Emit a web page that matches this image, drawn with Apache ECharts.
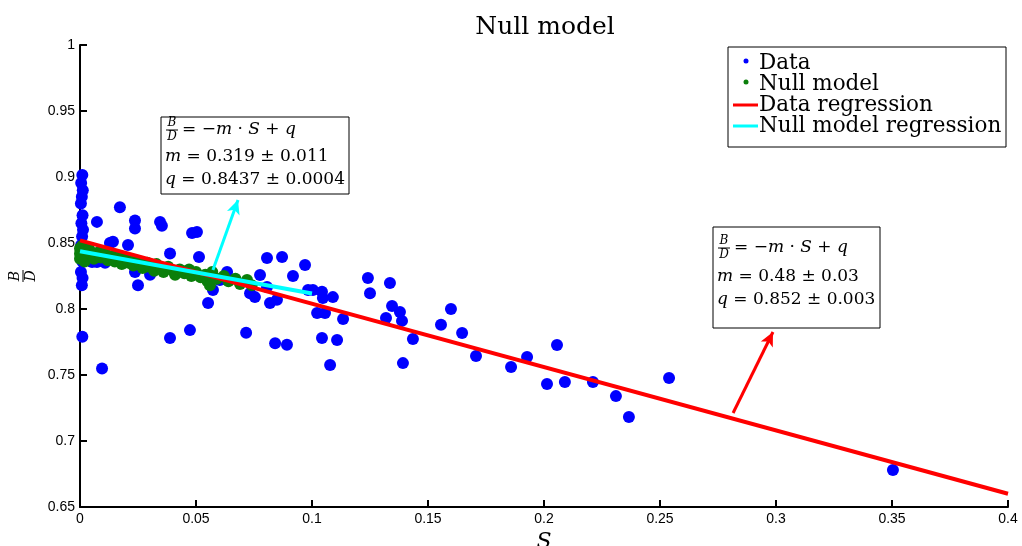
<!DOCTYPE html>
<html><head><meta charset="utf-8">
<script src="https://cdn.jsdelivr.net/npm/echarts@6/dist/echarts.min.js"></script>
<style>html,body{margin:0;padding:0;background:#fff}#c{width:1022px;height:546px}</style>
</head><body><div id="c"></div>
<script>
const chartTitle = 'Null model';
const xTickValues = [0, 0.05, 0.1, 0.15, 0.2, 0.25, 0.3, 0.35, 0.4];
const yTickValues = [0.65, 0.7, 0.75, 0.8, 0.85, 0.9, 0.95, 1];

// Blue "Data" points: S and B/D
const dataS = [0.0010,0.0005,0.0012,0.0008,0.0004,0.0011,0.0006,0.0013,0.0009,0.0005,0.0012,0.0007,0.0010,0.0004,0.0011,0.0008,0.0010,
  0.0073,0.0095,0.0172,0.0237,0.0237,0.0345,0.0353,0.0129,0.0142,0.0207,0.0073,0.0052,0.0108,0.0237,0.0250,0.0302,0.0388,0.0388,
  0.0483,0.0504,0.0513,0.0552,0.0474,0.0573,0.0603,0.0634,0.0806,0.0871,0.0776,0.0918,0.0970,0.0733,0.0754,0.0806,0.0819,0.0849,
  0.0716,0.0841,0.0892,0.0983,0.1004,0.1043,0.1047,0.1090,0.1022,0.1056,0.1134,0.1043,0.1108,0.1078,
  0.1241,0.1336,0.1250,0.1345,0.1379,0.1388,0.1319,0.1435,0.1392,0.1599,0.1556,0.1647,0.1707,0.1858,0.1927,0.2056,0.2013,0.2090,
  0.2211,0.2310,0.2366,0.2539,0.3504];
const dataBD = [0.9015,0.8955,0.8900,0.8850,0.8800,0.8710,0.8650,0.8600,0.8550,0.8485,0.8430,0.8390,0.8360,0.8280,0.8235,0.8180,0.7790,
  0.8660,0.7550,0.8770,0.8670,0.8610,0.8660,0.8630,0.8500,0.8510,0.8485,0.8356,0.8356,0.8350,0.8280,0.8180,0.8260,0.8420,0.7780,
  0.8576,0.8583,0.8394,0.8045,0.7840,0.8144,0.8220,0.8280,0.8386,0.8394,0.8258,0.8250,0.8333,0.8120,0.8090,0.8167,0.8045,0.8070,
  0.7820,0.7740,0.7730,0.8144,0.8144,0.8130,0.8083,0.8090,0.7970,0.7970,0.7924,0.7780,0.7765,0.7576,
  0.8235,0.8197,0.8120,0.8023,0.7977,0.7910,0.7932,0.7773,0.7590,0.8000,0.7880,0.7818,0.7644,0.7560,0.7636,0.7727,0.7432,0.7447,
  0.7447,0.7340,0.7182,0.7477,0.6780];

// Green "Null model" points
const nullS = [0,0,0,0.001,0.001,0.002,0.002,0.004,0.005,0.006,0.008,0.009,0.011,0.012,0.014,0.015,0.017,0.018,0.020,0.021,
  0.023,0.024,0.026,0.027,0.029,0.030,0.032,0.033,0.035,0.036,0.038,0.040,0.041,0.043,0.045,0.047,0.048,0.050,0.052,0.054,
  0.055,0.056,0.057,0.059,0.062,0.064,0.067,0.069,0.072,0.074];
const nullBD = [0.846,0.842,0.838,0.848,0.840,0.844,0.836,0.845,0.841,0.838,0.843,0.839,0.842,0.837,0.840,0.836,0.839,0.834,0.838,0.835,
  0.833,0.837,0.834,0.831,0.835,0.832,0.829,0.834,0.831,0.828,0.832,0.829,0.826,0.830,0.827,0.830,0.825,0.828,0.824,0.826,
  0.821,0.818,0.828,0.823,0.825,0.821,0.823,0.819,0.822,0.818];

// Regression fits (B/D = -m*S + q)
const dataFit = {m: 0.48, q: 0.852, sEnd: 0.4};
const nullFit = {m: 0.319, q: 0.8437, sEnd: 0.1};
// Annotation arrows in data coordinates [start, tip]
const dataArrow = [[0.2815, 0.7212], [0.2987, 0.7826]];
const nullArrow = [[0.0573, 0.8295], [0.0681, 0.8826]];
const legendNames = ['Data', 'Null model', 'Data regression', 'Null model regression'];
const nullBoxLines = ['m = 0.319 ± 0.011', 'q = 0.8437 ± 0.0004'];
const dataBoxLines = ['m = 0.48 ± 0.03', 'q = 0.852 ± 0.003'];

const SERIF = "'DejaVu Serif'";
const SANS = "'Liberation Sans'";
const BLUE = '#0000ff', GREEN = '#0b7f0b', RED = '#ff0000', CYAN = '#00ffff';

const zip = (a, b) => a.map((v, i) => [v, b[i]]);
const fitLine = f => [[0, f.q], [f.sEnd, f.q - f.m * f.sEnd]];

function richLine(s) {
  return '{i|' + s[0] + '}' + s.slice(1);
}

function fracGroup(x, y, size) {
  return {type: 'group', x: x, y: y, children: [
    {type: 'text', style: {text: 'B', x: 0, y: -1, align: 'center', verticalAlign: 'bottom', font: 'italic ' + size + 'px ' + SERIF, fill: '#000'}},
    {type: 'line', shape: {x1: -6, y1: 0, x2: 6, y2: 0}, style: {stroke: '#000', lineWidth: 1}},
    {type: 'text', style: {text: 'D', x: 0, y: 1, align: 'center', verticalAlign: 'top', font: 'italic ' + size + 'px ' + SERIF, fill: '#000'}}
  ]};
}

const BOXFS = 17;
function eqBox(left, top, w, h, fracY, lines, lineYs) {
  const richI = {i: {fontStyle: 'italic', fontFamily: SERIF, fontSize: BOXFS}};
  const children = [
    {type: 'rect', shape: {x: left, y: top, width: w, height: h}, style: {fill: '#fff', stroke: '#000', lineWidth: 1}},
    fracGroup(left + 11, fracY, 12),
    {type: 'text', style: {text: '= {i|−m} · {i|S} + {i|q}', x: left + 21, y: fracY, verticalAlign: 'middle', font: BOXFS + 'px ' + SERIF, fill: '#000', rich: richI}}
  ];
  lines.forEach((s, k) => children.push({type: 'text', style: {text: richLine(s), x: left + 4, y: lineYs[k], verticalAlign: 'middle',
    font: BOXFS + 'px ' + SERIF, fill: '#000', rich: richI}}));
  return {type: 'group', children: children};
}

const legendY = [63, 84, 105, 126];
const legendGraphic = {type: 'group', children: [
  {type: 'rect', shape: {x: 728, y: 47, width: 278, height: 100}, style: {fill: '#fff', stroke: '#000', lineWidth: 1}},
  {type: 'circle', shape: {cx: 746, cy: legendY[0] - 2, r: 2.5}, style: {fill: BLUE}},
  {type: 'circle', shape: {cx: 746, cy: legendY[1] - 2, r: 2.5}, style: {fill: GREEN}},
  {type: 'line', shape: {x1: 733, y1: legendY[2], x2: 758, y2: legendY[2]}, style: {stroke: RED, lineWidth: 3}},
  {type: 'line', shape: {x1: 733, y1: legendY[3], x2: 758, y2: legendY[3]}, style: {stroke: CYAN, lineWidth: 3}}
].concat(legendNames.map((n, k) => ({type: 'text', style: {text: n, x: 759, y: legendY[k], verticalAlign: 'middle', font: '21.5px ' + SERIF, fill: '#000'}})))};

const chart = echarts.init(document.getElementById('c'), null, {renderer: 'canvas'});
const axisCommon = {
  axisLine: {show: true, lineStyle: {color: '#000', width: 2}},
  axisTick: {show: true, inside: true, length: 7, lineStyle: {color: '#000', width: 2}},
  splitLine: {show: false},
  axisLabel: {color: '#000', fontFamily: SANS, fontSize: 14}
};
const fmt = v => String(+v.toFixed(2));
chart.setOption({
  animation: false,
  backgroundColor: '#fff',
  grid: {left: 80, right: 14, top: 45, bottom: 39, containLabel: false, outerBoundsMode: 'none'},
  xAxis: Object.assign({type: 'value', min: 0, max: 0.4, interval: 0.05,
    name: 'S', nameLocation: 'middle', nameGap: 22,
    nameTextStyle: {fontFamily: SERIF, fontStyle: 'italic', fontSize: 22, color: '#000'}}, axisCommon,
    {axisLabel: Object.assign({}, axisCommon.axisLabel, {margin: 5, formatter: fmt})}),
  yAxis: Object.assign({type: 'value', min: 0.65, max: 1, interval: 0.05}, axisCommon,
    {axisLabel: Object.assign({}, axisCommon.axisLabel, {margin: 5, formatter: fmt})}),
  series: [
    {name: 'Data', type: 'scatter', data: zip(dataS, dataBD), symbolSize: 12, itemStyle: {color: BLUE, opacity: 1}, z: 2},
    {name: 'Null model', type: 'scatter', data: zip(nullS, nullBD), symbolSize: 12, itemStyle: {color: GREEN, opacity: 1}, z: 3},
    {name: 'Data regression', type: 'line', data: fitLine(dataFit), showSymbol: false, symbol: 'none', lineStyle: {color: RED, width: 4}, z: 4,
      markLine: {silent: true, symbol: ['none', 'arrow'], symbolSize: [10, 14], label: {show: false},
        lineStyle: {color: RED, width: 3, type: 'solid'}, data: [[{coord: dataArrow[0]}, {coord: dataArrow[1]}]]}},
    {name: 'Null model regression', type: 'line', data: fitLine(nullFit), showSymbol: false, symbol: 'none', lineStyle: {color: CYAN, width: 4}, z: 5,
      markLine: {silent: true, symbol: ['none', 'arrow'], symbolSize: [10, 14], label: {show: false},
        lineStyle: {color: CYAN, width: 3, type: 'solid'}, data: [[{coord: nullArrow[0]}, {coord: nullArrow[1]}]]}}
  ],
  graphic: [
    {type: 'text', style: {text: chartTitle, x: 545, y: 27, align: 'center', verticalAlign: 'middle', font: '25px ' + SERIF, fill: '#000'}},
    {type: 'group', x: 23, y: 276, rotation: Math.PI / 2, children: fracGroup(0, 0, 14).children},
    eqBox(161, 117, 188, 77, 130, nullBoxLines, [157, 180]),
    eqBox(713, 227, 167, 101, 248, dataBoxLines, [277, 300]),
    legendGraphic
  ]
});
</script></body></html>
